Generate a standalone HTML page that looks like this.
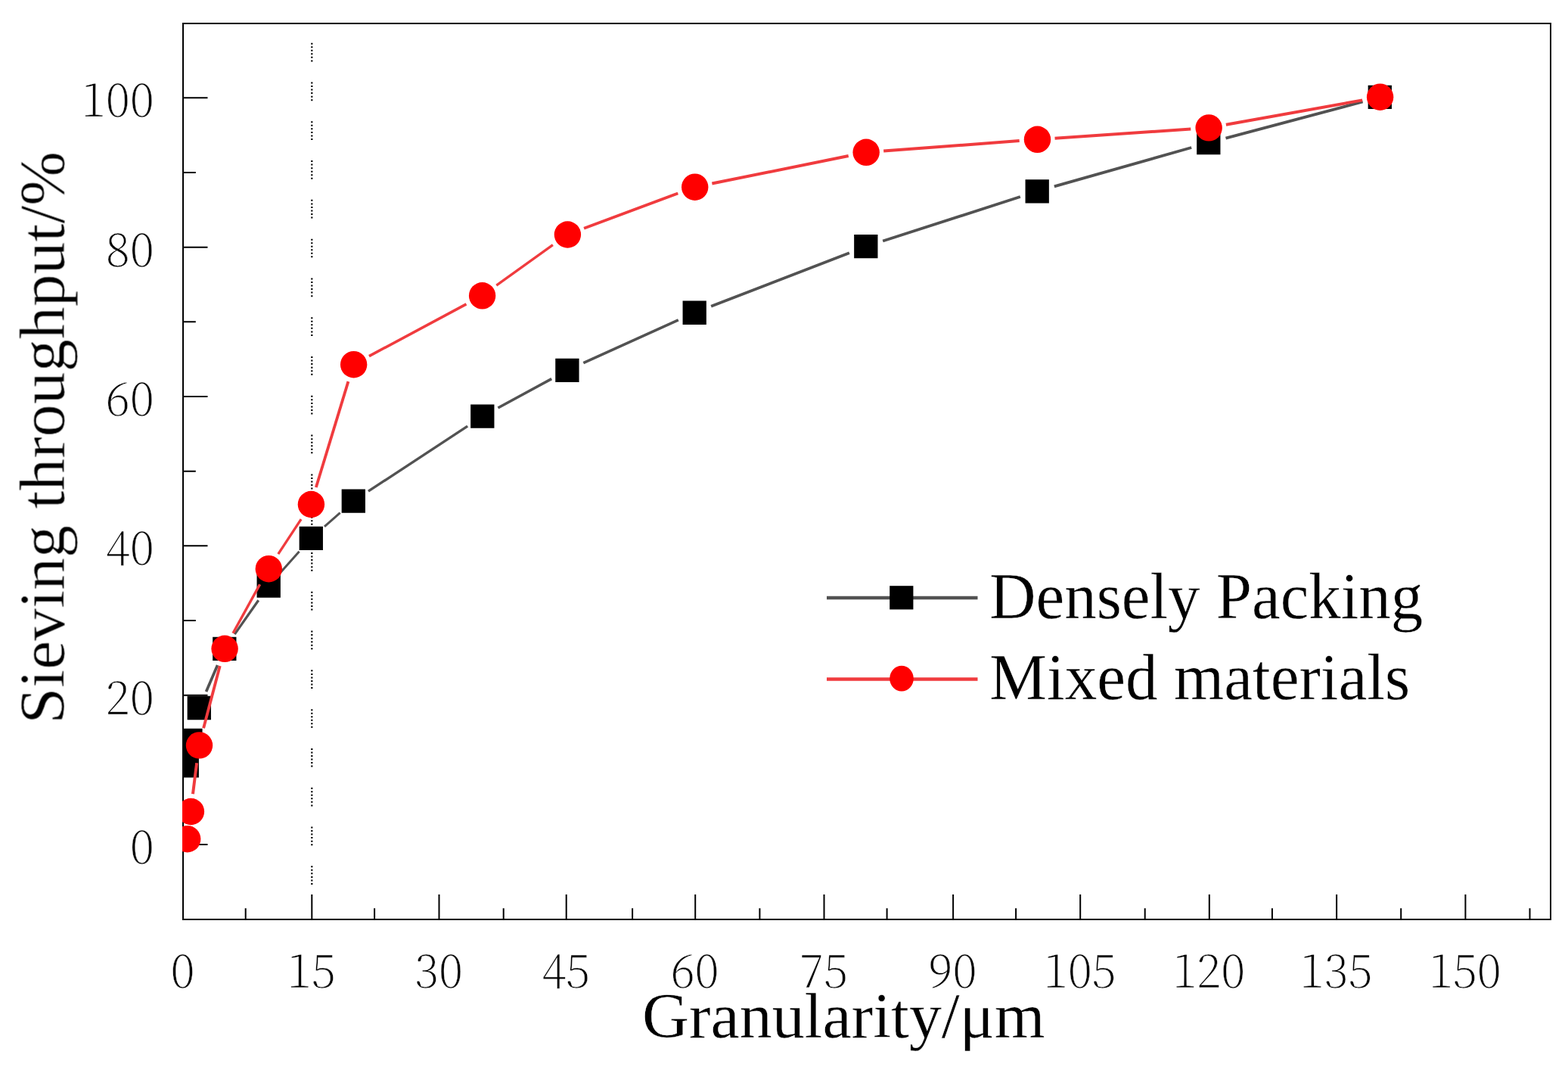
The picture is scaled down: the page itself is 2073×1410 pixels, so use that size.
<!DOCTYPE html>
<html lang="en"><head><meta charset="utf-8"><title>Sieving throughput vs granularity</title>
<style>html,body{margin:0;padding:0;background:#fff;overflow:hidden}svg{display:block}.t{font-family:"Liberation Serif","Noto Serif CJK SC",serif;font-size:87px;fill:#000;stroke:#fff;stroke-width:.4px;filter:blur(0.5px)}.a{font-size:85.5px}.r{stroke:#fff;stroke-width:.7px}.n{font-family:"Noto Serif CJK SC","Liberation Serif",serif;font-weight:200;font-size:62px;fill:#000;stroke:#fff;stroke-width:.4px;filter:blur(0.5px)}</style></head><body>
<svg width="2073" height="1410" viewBox="0 0 2073 1410">
<rect width="2073" height="1410" fill="#fff"/>
<defs><clipPath id="c"><rect x="241" y="30" width="1810" height="1186"/></clipPath></defs>
<rect x="242" y="31" width="1808" height="1184" fill="none" stroke="#000" stroke-width="2"/>
<path d="M243 1116.03h31.5M243 1017.37h15.8M243 918.7h31.5M243 820.03h15.8M243 721.37h31.5M243 622.7h15.8M243 524.03h31.5M243 425.37h15.8M243 326.7h31.5M243 228.03h15.8M243 129.37h31.5M324.7 1214v-13.7M412.3 1214v-32M495.1 1214v-13.7M580.5 1214v-32M665.7 1214v-13.7M748.7 1214v-32M836.1 1214v-13.7M919.2 1214v-32M1004.4 1214v-13.7M1089.5 1214v-32M1172.6 1214v-13.7M1260.1 1214v-32M1343.1 1214v-13.7M1428.2 1214v-32M1513.7 1214v-13.7M1598.8 1214v-32M1681.9 1214v-13.7M1767.1 1214v-32M1852.2 1214v-13.7M1937.4 1214v-32M2022.5 1214v-13.7" stroke="#000" stroke-width="2" fill="none"/>
<path d="M412.3 56.7V1168.91" stroke="#000" stroke-width="2.2" stroke-dasharray="2 2.54 2 2.54 2 2.54 2 2.54 2 2.54 2 27.09" fill="none"/>
<g clip-path="url(#c)">
<path d="M272.56 913.9L287.54 879" stroke="#525252" stroke-width="3.68"/>
<path d="M310.28 838.15L341.72 793.25" stroke="#525252" stroke-width="3.28"/>
<path d="M370.87 756.49L395.63 728.81" stroke="#525252" stroke-width="2.98"/>
<path d="M428.95 695.79L449.65 677.61" stroke="#525252" stroke-width="3"/>
<path d="M486.95 649.21L618.15 563.09" stroke="#525252" stroke-width="3.34"/>
<path d="M658.46 539L729.24 500.6" stroke="#525252" stroke-width="3.52"/>
<path d="M771.31 479.71L896.79 422.94" stroke="#525252" stroke-width="3.64"/>
<path d="M940.12 404.78L1122.88 334.17" stroke="#525252" stroke-width="3.73"/>
<path d="M1167.17 318.5L1348.83 260" stroke="#525252" stroke-width="3.81"/>
<path d="M1393.81 246.39L1575.19 195.01" stroke="#525252" stroke-width="3.85"/>
<path d="M1620.51 182.56L1801.59 134.44" stroke="#525252" stroke-width="3.87"/>
<path d="M231.6 995.2h31.3v32.4h-31.3zM236.25 962.8h31.3v32.4h-31.3zM247.65 919.85h31.3v31.3h-31.3zM281.15 841.75h31.3v31.3h-31.3zM339.55 758.35h31.3v31.3h-31.3zM395.65 695.65h31.3v31.3h-31.3zM451.65 646.45h31.3v31.3h-31.3zM622.15 534.55h31.3v31.3h-31.3zM734.25 473.75h31.3v31.3h-31.3zM902.55 397.6h31.3v31.3h-31.3zM1129.15 310.05h31.3v31.3h-31.3zM1355.55 237.15h31.3v31.3h-31.3zM1582.15 172.95h31.3v31.3h-31.3zM1808.65 112.75h31.3v31.3h-31.3z" fill="#000"/>
<path d="M254.95 1049.19L260.15 1008.21" stroke="#f03b3e" stroke-width="3.97"/>
<path d="M269.08 962.17L290.72 880.03" stroke="#f03b3e" stroke-width="3.87"/>
<path d="M308.04 836.72L343.56 772.28" stroke="#f03b3e" stroke-width="3.5"/>
<path d="M367.82 732.07L398.08 686.13" stroke="#f03b3e" stroke-width="3.34"/>
<path d="M417.84 644.02L460.41 504.18" stroke="#f03b3e" stroke-width="3.83"/>
<path d="M487.97 470.62L616.48 401.88" stroke="#f03b3e" stroke-width="3.53"/>
<path d="M656.3 377.12L730.9 323.68" stroke="#f03b3e" stroke-width="3.25"/>
<path d="M772.02 301.78L896.28 255.42" stroke="#f03b3e" stroke-width="3.75"/>
<path d="M941.33 242.53L1121.72 205.97" stroke="#f03b3e" stroke-width="3.92"/>
<path d="M1168.18 199.54L1347.67 186.06" stroke="#f03b3e" stroke-width="3.99"/>
<path d="M1394.55 182.71L1574.3 170.49" stroke="#f03b3e" stroke-width="3.99"/>
<path d="M1620.88 164.74L1801.07 132.36" stroke="#f03b3e" stroke-width="3.94"/>
<circle cx="247.7" cy="1108.7" r="17.7" fill="#f00"/>
<circle cx="252.4" cy="1072.5" r="17.7" fill="#f00"/>
<circle cx="263.5" cy="984.9" r="17.7" fill="#f00"/>
<circle cx="297.1" cy="857.3" r="17.7" fill="#f00"/>
<circle cx="355.3" cy="751.7" r="17.7" fill="#f00"/>
<circle cx="411.4" cy="666.5" r="17.7" fill="#f00"/>
<circle cx="467.65" cy="481.7" r="17.7" fill="#f00"/>
<circle cx="637.6" cy="390.8" r="17.7" fill="#f00"/>
<circle cx="750.4" cy="310" r="17.7" fill="#f00"/>
<circle cx="918.7" cy="247.2" r="17.7" fill="#f00"/>
<circle cx="1145.15" cy="201.3" r="17.7" fill="#f00"/>
<circle cx="1371.5" cy="184.3" r="17.7" fill="#f00"/>
<circle cx="1598.15" cy="168.9" r="17.7" fill="#f00"/>
<circle cx="1824.6" cy="128.2" r="17.7" fill="#f00"/>
</g>
<path d="M1093 790H1292.5" stroke="#525252" stroke-width="4.3"/>
<rect x="1176.2" y="774.2" width="31.2" height="31.2" fill="#000"/>
<path d="M1093 897.5H1292.5" stroke="#f03b3e" stroke-width="4.3"/>
<ellipse cx="1192" cy="896.6" rx="15.8" ry="16.9" fill="#f00"/>
<text class="t" transform="translate(1308.3 816.6) scale(0.976 1)">Densely Packing</text>
<text class="t" transform="translate(1308.3 924) scale(0.979 1)">Mixed materials</text>
<text class="t a" transform="translate(849 1370.5) scale(1.0045 1)">Granularity/μm</text>
<text class="t a r" transform="translate(84.6 956.5) rotate(-90) scale(1.0048 1)">Sieving throughput/%</text>
<text class="n" text-anchor="middle" transform="translate(241.4 1305) scale(0.965 1)">0</text>
<text class="n" text-anchor="middle" transform="translate(411.7 1305) scale(0.965 1)">15</text>
<text class="n" text-anchor="middle" transform="translate(579.9 1305) scale(0.965 1)">30</text>
<text class="n" text-anchor="middle" transform="translate(748.1 1305) scale(0.965 1)">45</text>
<text class="n" text-anchor="middle" transform="translate(918.6 1305) scale(0.965 1)">60</text>
<text class="n" text-anchor="middle" transform="translate(1088.9 1305) scale(0.965 1)">75</text>
<text class="n" text-anchor="middle" transform="translate(1259.5 1305) scale(0.965 1)">90</text>
<text class="n" text-anchor="middle" transform="translate(1427.6 1305) scale(0.965 1)">105</text>
<text class="n" text-anchor="middle" transform="translate(1598.2 1305) scale(0.965 1)">120</text>
<text class="n" text-anchor="middle" transform="translate(1766.5 1305) scale(0.965 1)">135</text>
<text class="n" text-anchor="middle" transform="translate(1936.8 1305) scale(0.965 1)">150</text>
<text class="n" text-anchor="end" transform="translate(203.6 1141.13) scale(0.965 1)">0</text>
<text class="n" text-anchor="end" transform="translate(203.6 943.8) scale(0.965 1)">20</text>
<text class="n" text-anchor="end" transform="translate(203.6 746.47) scale(0.965 1)">40</text>
<text class="n" text-anchor="end" transform="translate(203.6 549.13) scale(0.965 1)">60</text>
<text class="n" text-anchor="end" transform="translate(203.6 351.8) scale(0.965 1)">80</text>
<text class="n" text-anchor="end" transform="translate(203.6 154.47) scale(0.965 1)">100</text>
</svg></body></html>
